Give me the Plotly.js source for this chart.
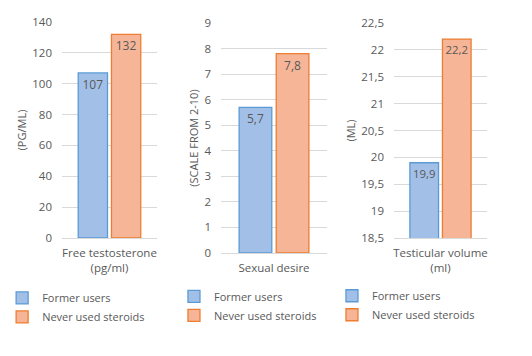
<!DOCTYPE html>
<html><head><meta charset="utf-8">
<script src="https://cdn.plot.ly/plotly-3.0.1.min.js"></script>
<style>body{margin:0;background:#fff}#chart{width:532px;height:356px}</style>
</head><body><div id="chart"></div>
<script>
const seriesNames = ["Former users", "Never used steroids"];
const panelCategories = ["Free testosterone<br>(pg/ml)", "Sexual desire", "Testicular volume<br>(ml)"];
const panelYTitles = ["(PG/ML)", "(SCALE FROM 2-10)", "(ML)"];
const formerUsers = [107, 5.7, 19.9];
const neverUsed = [132, 7.8, 22.2];
const yRanges = [[0, 140], [0, 9], [18.5, 22.5]];
const yDticks = [20, 1, 0.5];

const fillColors = ["#a2c0e7", "#f6b597"];
const lineColors = ["#5b9bd5", "#ed7d31"];
const gray = "#595959";
const font = "Open Sans, Liberation Sans, sans-serif";

const xDomains = [[0.1165, 0.2951], [0.4154, 0.6147], [0.7406, 0.9154]];
const yDomains = [[0.3315, 0.9382], [0.2893, 0.9354], [0.3315, 0.9354]];
const legendX = [0.004, 0.327, 0.624];
const legendY = [0.204, 0.208, 0.21];

const fmt = v => String(v).replace('.', ',');
const traces = [];
const layout = {
  width: 532, height: 356,
  margin: {l: 0, r: 0, t: 0, b: 0},
  paper_bgcolor: "#fff", plot_bgcolor: "#fff",
  separators: ", ",
  barmode: "group", bargap: 0.3, bargroupgap: 0.12,
  font: {family: font, size: 11, color: gray},
  showlegend: true
};
const seriesData = [formerUsers, neverUsed];
for (let p = 0; p < 3; p++) {
  const sfx = p === 0 ? "" : String(p + 1);
  for (let s = 0; s < 2; s++) {
    traces.push({
      type: "bar",
      name: seriesNames[s],
      x: [panelCategories[p]],
      y: [seriesData[s][p]],
      xaxis: "x" + sfx, yaxis: "y" + sfx,
      legend: "legend" + sfx,
      legendgroup: "g" + p + s,
      marker: {color: fillColors[s], line: {color: lineColors[s], width: 1.3}},
      text: [fmt(seriesData[s][p])],
      textposition: "inside",
      insidetextanchor: "end",
      textangle: 0,
      insidetextfont: {family: font, size: 12, color: gray},
      hoverinfo: "skip"
    });
  }
  layout["xaxis" + sfx] = {
    domain: xDomains[p], anchor: "y" + sfx,
    showline: true, linecolor: "#d9d9d9", linewidth: 1,
    ticks: "", tickfont: {size: 11.5, color: gray}, ticklabelstandoff: 4,
    fixedrange: true
  };
  layout["yaxis" + sfx] = {
    domain: yDomains[p], anchor: "x" + sfx,
    range: yRanges[p], dtick: yDticks[p], tick0: yRanges[p][0],
    showgrid: true, gridcolor: "#d9d9d9", gridwidth: 1,
    zeroline: false, showline: false, ticks: "",
    tickfont: {size: 11.5, color: gray}, ticklabelstandoff: 9,
    title: {text: panelYTitles[p], font: {size: 11, color: gray}, standoff: 3},
    fixedrange: true
  };
  layout["legend" + sfx] = {
    x: legendX[p], y: legendY[p], xanchor: "left", yanchor: "top",
    font: {family: font, size: 11, color: gray},
    bgcolor: "rgba(0,0,0,0)", tracegroupgap: 4, itemwidth: 30,
    traceorder: "normal"
  };
}
Plotly.newPlot("chart", traces, layout, {displayModeBar: false, staticPlot: true});
</script></body></html>
